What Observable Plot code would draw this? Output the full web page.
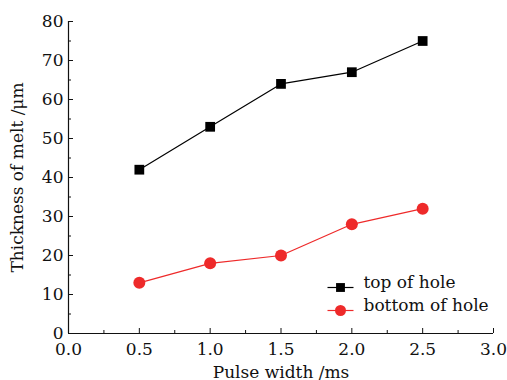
<!DOCTYPE html>
<html>
<head>
<meta charset="utf-8">
<script src="https://cdn.jsdelivr.net/npm/d3@7"></script>
<script src="https://cdn.jsdelivr.net/npm/@observablehq/plot@0.6"></script>
<style>
  html, body { margin: 0; padding: 0; background: #fff; }
  svg, svg text { font-family: "DejaVu Serif", "Liberation Serif", serif !important; }
</style>
</head>
<body>
<div id="chart"></div>
<script>
const pulseWidth = [0.5, 1.0, 1.5, 2.0, 2.5];
const topOfHole = [42, 53, 64, 67, 75];
const bottomOfHole = [13, 18, 20, 28, 32];
const xTicks = [0, 0.5, 1.0, 1.5, 2.0, 2.5, 3.0];
const xMinorTicks = [0.25, 0.75, 1.25, 1.75, 2.25, 2.75];
const yTicks = [0, 10, 20, 30, 40, 50, 60, 70, 80];
const yMinorTicks = [5, 15, 25, 35, 45, 55, 65, 75];
const seriesNames = ["top of hole", "bottom of hole"];

const topData = pulseWidth.map((x, i) => ({x, y: topOfHole[i]}));
const bottomData = pulseWidth.map((x, i) => ({x, y: bottomOfHole[i]}));

const RED = "#ee2a2a";
const lineSymbol = {draw(ctx) { ctx.moveTo(-13, 0); ctx.lineTo(13, 0); }};

const chart = Plot.plot({
  width: 507,
  height: 380,
  marginLeft: 68,
  marginRight: 14,
  marginTop: 21,
  marginBottom: 47,
  x: {domain: [0, 3]},
  y: {domain: [0, 80]},
  style: {fontFamily: "DejaVu Serif", fontSize: "17px", color: "#111", background: "#fff"},
  marks: [
    Plot.axisX({ticks: xTicks, tickFormat: d3.format(".1f"), tickSize: -5, tickPadding: 14, label: "Pulse width /ms", labelAnchor: "center", labelArrow: "none", labelOffset: 44, fontSize: 17}),
    Plot.axisX({ticks: xMinorTicks, text: null, tickSize: -3, label: null}),
    Plot.axisY({ticks: yTicks, tickSize: -5, tickPadding: 10, label: "Thickness of melt /μm", labelAnchor: "center", labelArrow: "none", labelOffset: 58, fontSize: 17}),
    Plot.axisY({ticks: yMinorTicks, text: null, tickSize: -3, label: null}),
    Plot.ruleX([0], {stroke: "#111", strokeWidth: 1.2}),
    Plot.ruleY([0], {stroke: "#111", strokeWidth: 1.2}),
    Plot.line(topData, {x: "x", y: "y", stroke: "#000", strokeWidth: 1.2}),
    Plot.dot(topData, {x: "x", y: "y", symbol: "square", r: 5.5, fill: "#000", stroke: "none"}),
    Plot.line(bottomData, {x: "x", y: "y", stroke: RED, strokeWidth: 1.2}),
    Plot.dot(bottomData, {x: "x", y: "y", symbol: "circle", r: 6, fill: RED, stroke: "none"}),
    // legend
    Plot.dot([seriesNames[0]], {frameAnchor: "bottom-right", dx: -153, dy: -46, symbol: lineSymbol, r: 1, fill: "none", stroke: "#000", strokeWidth: 1.2}),
    Plot.dot([seriesNames[0]], {frameAnchor: "bottom-right", dx: -153, dy: -46, symbol: "square", r: 5, fill: "#000", stroke: "none"}),
    Plot.text([seriesNames[0]], {frameAnchor: "bottom-right", dx: -130, dy: -46, text: d => d, textAnchor: "start", fontSize: 17, fill: "#111"}),
    Plot.dot([seriesNames[1]], {frameAnchor: "bottom-right", dx: -153, dy: -23, symbol: lineSymbol, r: 1, fill: "none", stroke: RED, strokeWidth: 1.2}),
    Plot.dot([seriesNames[1]], {frameAnchor: "bottom-right", dx: -153, dy: -23, symbol: "circle", r: 5.5, fill: RED, stroke: "none"}),
    Plot.text([seriesNames[1]], {frameAnchor: "bottom-right", dx: -130, dy: -23, text: d => d, textAnchor: "start", fontSize: 17, fill: "#111"})
  ]
});
document.getElementById("chart").appendChild(chart);
</script>
</body>
</html>
